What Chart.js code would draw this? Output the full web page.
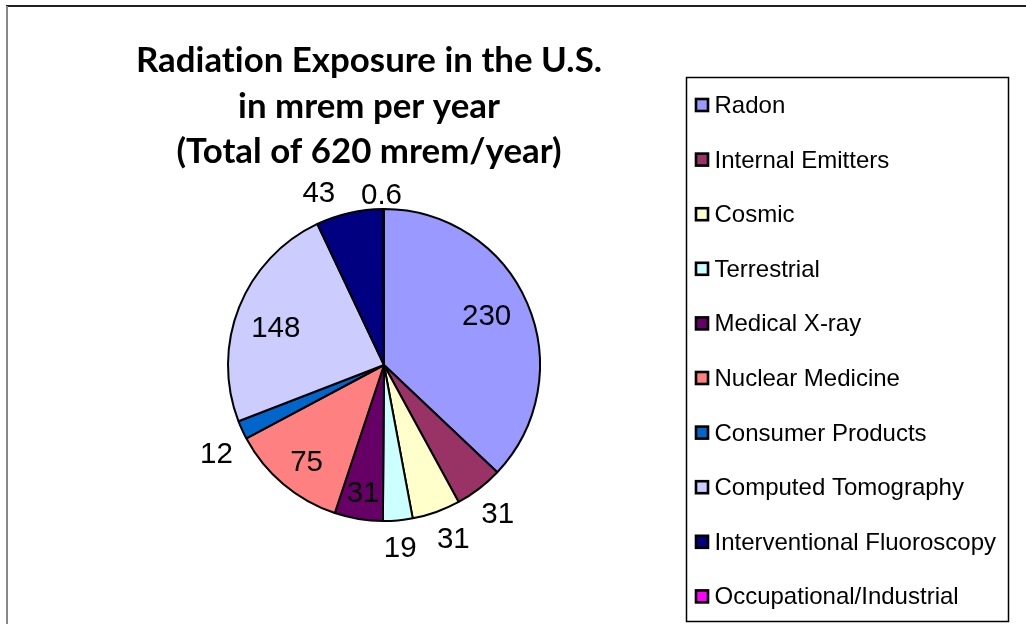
<!DOCTYPE html>
<html>
<head>
<meta charset="utf-8">
<script src="https://cdn.jsdelivr.net/npm/chart.js@4"></script>
<style>
  html, body { margin: 0; padding: 0; background: #ffffff; }
  #wrap { position: relative; width: 1026px; height: 624px; }
</style>
</head>
<body>
<div id="wrap"><canvas id="c"></canvas></div>
<script>
// ---- data ----
const categories = [
  'Radon', 'Internal Emitters', 'Cosmic', 'Terrestrial', 'Medical X-ray',
  'Nuclear Medicine', 'Consumer Products', 'Computed Tomography',
  'Interventional Fluoroscopy', 'Occupational/Industrial'
];
const values = [230, 31, 31, 19, 31, 75, 12, 148, 43, 0.6];
const valueLabels = ['230', '31', '31', '19', '31', '75', '12', '148', '43', '0.6'];
const titleLines = ['Radiation Exposure in the U.S.', 'in mrem per year', '(Total of 620 mrem/year)'];

// ---- styles ----
const sliceColors = ['#9999FF', '#993366', '#FFFFCC', '#CCFFFF', '#660066',
                     '#FF8080', '#0066CC', '#CCCCFF', '#000080', '#FF00FF'];
// label placement: radial factor relative to outer radius, plus pixel nudge
const labelRadial = [0.73, 1.195, 1.19, 1.17, 0.82, 0.79, 1.21, 0.74, 1.19, 1.10];
const labelNudge = [[-2,-6],[0,0],[7,-2.5],[0,0],[0,0],[2,1],[4,9],[-1,4],[-24,7],[-2,0]];

const LABEL_PX = 29.5;

const decorPlugin = {
  id: 'decor',
  afterDatasetsDraw(chart) {
    const ctx = chart.ctx;
    const meta = chart.getDatasetMeta(0);
    ctx.save();
    // data labels
    ctx.fillStyle = '#000';
    ctx.font = LABEL_PX + 'px "Liberation Sans", Arial, sans-serif';
    ctx.textAlign = 'center';
    ctx.textBaseline = 'alphabetic';
    meta.data.forEach((arc, i) => {
      const p = arc.getProps(['x', 'y', 'startAngle', 'endAngle', 'outerRadius'], true);
      const mid = (p.startAngle + p.endAngle) / 2;
      const r = p.outerRadius * labelRadial[i];
      const cx = p.x + Math.cos(mid) * r + labelNudge[i][0];
      const cy = p.y + Math.sin(mid) * r + labelNudge[i][1];
      ctx.fillText(valueLabels[i], cx, cy + 0.358 * LABEL_PX);
    });

    // title
    try { ctx.letterSpacing = '0.01px'; } catch (e) {}
    ctx.font = 'bold 100px Lato, "Open Sans", sans-serif';
    const w100 = ctx.measureText(titleLines[0]).width;
    const tSize = 100 * 466 / w100;
    ctx.font = 'bold ' + tSize.toFixed(2) + 'px Lato, "Open Sans", sans-serif';
    const baselines = [72, 117.5, 163];
    titleLines.forEach((t, i) => ctx.fillText(t, 369, baselines[i]));
    try { ctx.letterSpacing = '0px'; } catch (e) {}

    // legend box
    ctx.strokeStyle = '#000';
    ctx.lineWidth = 1.5;
    ctx.strokeRect(686.5, 77.5, 322, 544);
    ctx.font = '24px "Liberation Sans", Arial, sans-serif';
    ctx.textAlign = 'left';
    categories.forEach((name, i) => {
      const yc = 105 + i * 54.6;
      ctx.fillStyle = sliceColors[i];
      ctx.fillRect(696, yc - 6, 12, 12);
      ctx.lineWidth = 2.6;
      ctx.strokeStyle = '#000';
      ctx.strokeRect(696, yc - 6, 12, 12);
      ctx.fillStyle = '#000';
      ctx.fillText(name, 714.5, yc + 8);
    });

    // outer chart frame (top and left edges visible)
    ctx.lineWidth = 2;
    ctx.strokeStyle = '#222';
    ctx.beginPath();
    ctx.moveTo(6, 6); ctx.lineTo(1026, 6);
    ctx.stroke();
    ctx.strokeStyle = '#888';
    ctx.beginPath();
    ctx.moveTo(7, 6); ctx.lineTo(7, 624);
    ctx.stroke();
    ctx.restore();
  }
};

new Chart(document.getElementById('c'), {
  type: 'pie',
  data: {
    labels: categories,
    datasets: [{
      data: values,
      backgroundColor: sliceColors,
      borderColor: '#000000',
      borderWidth: 2
    }]
  },
  options: {
    responsive: true,
    maintainAspectRatio: false,
    animation: false,
    layout: { padding: { left: 227, right: 485, top: 208, bottom: 102 } },
    plugins: {
      legend: { display: false },
      title: { display: false },
      tooltip: { enabled: false }
    }
  },
  plugins: [decorPlugin]
});
</script>
</body>
</html>
